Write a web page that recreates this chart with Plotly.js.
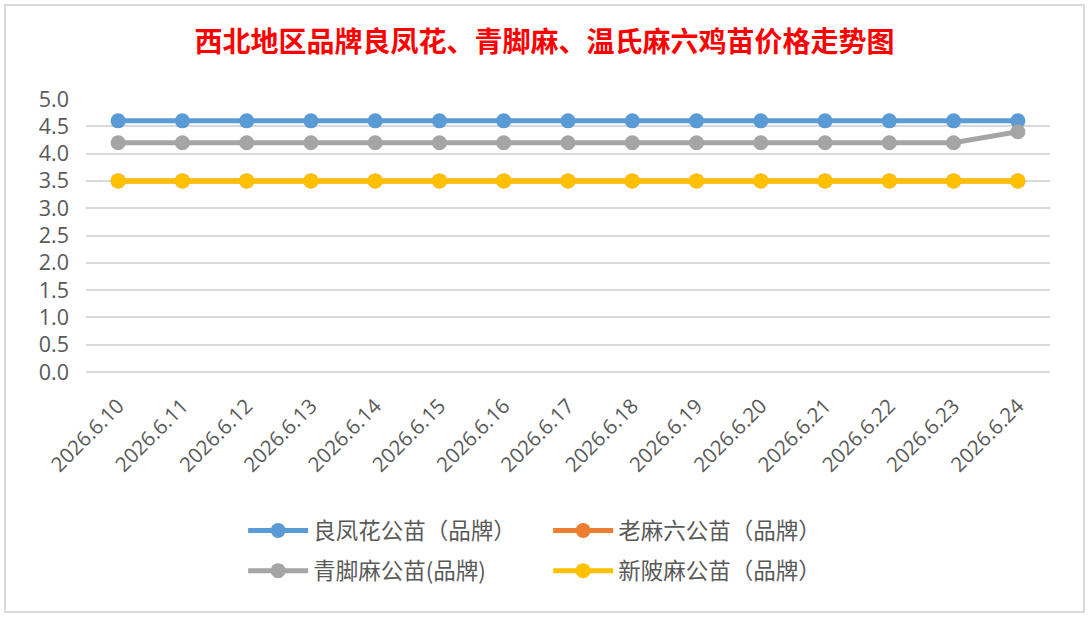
<!DOCTYPE html>
<html>
<head>
<meta charset="utf-8">
<script src="https://cdn.plot.ly/plotly-3.0.1.min.js"></script>
<style>
  html, body { margin: 0; padding: 0; background: #ffffff; }
  #frame {
    position: absolute; left: 4px; top: 4px; width: 1077px; height: 605px;
    border: 2px solid #d9d9d9; box-sizing: content-box;
  }
  #chart { position: absolute; left: 0; top: 0; width: 1089px; height: 617px; }
</style>
</head>
<body>
<div id="frame"></div>
<div id="chart"></div>
<script>
  "use strict";

  var DATES = [
    "2026.6.10", "2026.6.11", "2026.6.12", "2026.6.13", "2026.6.14",
    "2026.6.15", "2026.6.16", "2026.6.17", "2026.6.18", "2026.6.19",
    "2026.6.20", "2026.6.21", "2026.6.22", "2026.6.23", "2026.6.24"
  ];

  var LIANGFENGHUA = [4.6, 4.6, 4.6, 4.6, 4.6, 4.6, 4.6, 4.6, 4.6, 4.6, 4.6, 4.6, 4.6, 4.6, 4.6];
  var LAOMALIU = [3.5, 3.5, 3.5, 3.5, 3.5, 3.5, 3.5, 3.5, 3.5, 3.5, 3.5, 3.5, 3.5, 3.5, 3.5];
  var QINGJIAOMA = [4.2, 4.2, 4.2, 4.2, 4.2, 4.2, 4.2, 4.2, 4.2, 4.2, 4.2, 4.2, 4.2, 4.2, 4.4];
  var XINPOMA = [3.5, 3.5, 3.5, 3.5, 3.5, 3.5, 3.5, 3.5, 3.5, 3.5, 3.5, 3.5, 3.5, 3.5, 3.5];

  var SERIES_NAMES = ["良凤花公苗（品牌）", "老麻六公苗（品牌）", "青脚麻公苗(品牌)", "新陂麻公苗（品牌）"];
  var SERIES_VALUES = [LIANGFENGHUA, LAOMALIU, QINGJIAOMA, XINPOMA];
  var COLORS = ["#5b9bd5", "#ed7d31", "#a5a5a5", "#ffc000"];
  // two legend rows, two entries each
  var LEGEND_ROW = ["legend", "legend", "legend2", "legend2"];

  var CJK = '"Noto Sans CJK SC", "Noto Sans", sans-serif';
  var TICK_FONT = '"Open Sans", "Noto Sans", sans-serif';

  var traces = SERIES_NAMES.map(function (name, i) {
    return {
      type: "scatter",
      mode: "lines+markers",
      name: name,
      legend: LEGEND_ROW[i],
      x: DATES,
      y: SERIES_VALUES[i],
      line: { color: COLORS[i], width: 5 },
      marker: { color: COLORS[i], size: 15 },
      hoverinfo: "x+y+name"
    };
  });

  function legendRow(y) {
    return {
      orientation: "h",
      x: 0.163,
      xanchor: "left",
      y: y,
      yanchor: "middle",
      entrywidth: 230,
      entrywidthmode: "pixels",
      itemwidth: 60,
      font: { family: CJK, size: 22.5, color: "#595959" },
      bgcolor: "rgba(0,0,0,0)"
    };
  }

  var layout = {
    width: 1089,
    height: 617,
    paper_bgcolor: "rgba(0,0,0,0)",
    plot_bgcolor: "rgba(0,0,0,0)",
    margin: { t: 99, r: 39, b: 245, l: 86, pad: 0 },
    title: {
      text: "<b>西北地区品牌良凤花、青脚麻、温氏麻六鸡苗价格走势图</b>",
      font: { family: CJK, size: 28, color: "#ff0000" },
      x: 0.5,
      xanchor: "center",
      y: 0.932,
      yanchor: "middle"
    },
    xaxis: {
      type: "category",
      range: [-0.5, 14.5],
      tickangle: -45,
      tickfont: { family: TICK_FONT, size: 20.5, color: "#595959" },
      ticklabelstandoff: 17,
      showgrid: false,
      showline: false,
      zeroline: false,
      ticks: "",
      fixedrange: true
    },
    yaxis: {
      range: [0, 5],
      dtick: 0.5,
      tick0: 0,
      tickformat: ".1f",
      tickfont: { family: TICK_FONT, size: 21.5, color: "#595959" },
      gridcolor: "#d9d9d9",
      gridwidth: 1.5,
      showline: false,
      zeroline: true,
      zerolinecolor: "#d9d9d9",
      zerolinewidth: 1.5,
      ticks: "",
      ticklabelstandoff: 16,
      fixedrange: true
    },
    showlegend: true,
    legend: legendRow(-0.582),
    legend2: legendRow(-0.729),
    hovermode: "closest"
  };

  Plotly.newPlot("chart", traces, layout, { displayModeBar: false });
</script>
</body>
</html>
